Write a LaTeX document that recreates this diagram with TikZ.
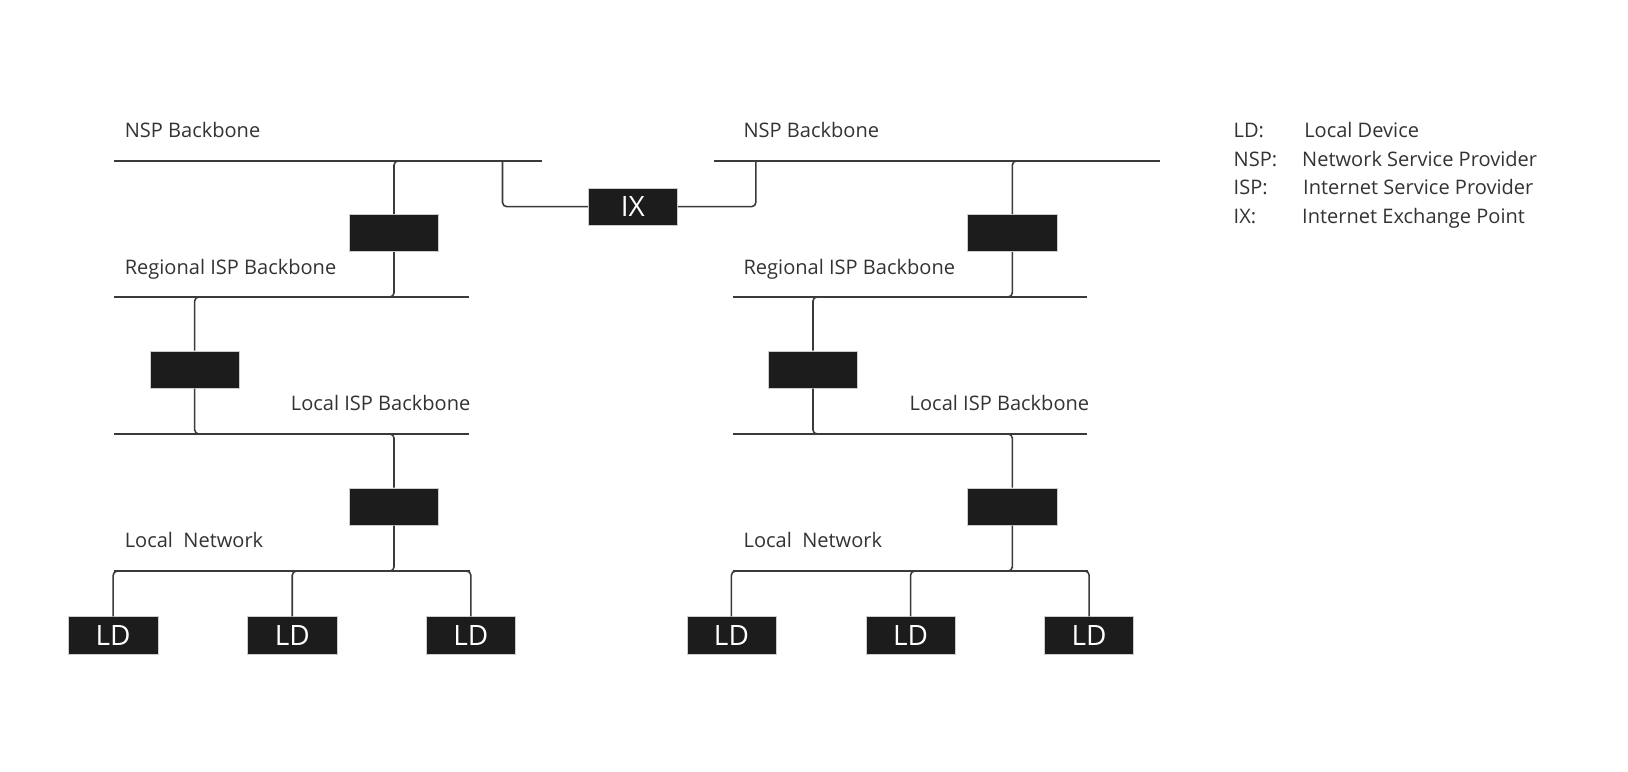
\documentclass[tikz,border=0pt]{standalone}
\usepackage{fontspec}
\setmainfont{Open Sans}
\usetikzlibrary{calc}
\definecolor{txt}{HTML}{333333}
\definecolor{linec}{HTML}{3A3A3A}
\definecolor{boxc}{HTML}{1C1C1C}
\tikzset{
  dev/.style={fill=boxc, draw=gray!40, line width=0.6, minimum width=86, minimum height=36, inner sep=0, text=white, font=\fontsize{27}{27}\selectfont},
  lbl/.style={anchor=base west, text=txt, inner sep=0, font=\fontsize{19.3}{19.3}\selectfont},
  bb/.style={line width=1.5, draw=linec},
  conn/.style={line width=1.5, draw=linec, rounded corners=4},
}
\begin{document}
\begin{tikzpicture}[x=1pt,y=-1pt]
\useasboundingbox (0,0) rectangle (1568,743);
\fill[white] (0,0) rectangle (1568,743);

% ---------- left tree ----------
\coordinate (nspLa) at (110,155); \coordinate (nspLb) at (522,155);
\coordinate (regLa) at (110,286); \coordinate (regLb) at (452,286);
\coordinate (locLa) at (110,418); \coordinate (locLb) at (452,418);
\coordinate (netLa) at (110,550); \coordinate (netLb) at (453,550);
\draw[bb] (nspLa) -- (nspLb);
\draw[bb] (regLa) -- (regLb);
\draw[bb] (locLa) -- (locLb);
\draw[bb] (netLa) -- (netLb);

\node[lbl] (tNspL) at (120,132) {NSP Backbone};
\node[lbl] (tRegL) at (120,264) {Regional ISP Backbone};
\node[lbl] (tLocL) at (280,395) {Local ISP Backbone};
\node[lbl] (tNetL) at (120,527) {Local\ \ Network};

\node[dev] (r1L) at (379.5,224.5) {};
\node[dev] (r2L) at (187.5,356) {};
\node[dev] (r3L) at (379.5,488) {};
\node[dev] (ld1L) at (109,612) {LD};
\node[dev] (ld2L) at (281.5,612) {LD};
\node[dev] (ld3L) at (453.5,612) {LD};

\draw[conn] (r1L.north) -- (r1L.north |- nspLa) -- ++(10,0);
\draw[conn] (r1L.south) -- (r1L.south |- regLa) -- ++(-10,0);
\draw[conn] (r2L.north) -- (r2L.north |- regLa) -- ++(10,0);
\draw[conn] (r2L.south) -- (r2L.south |- locLa) -- ++(10,0);
\draw[conn] (r3L.north) -- (r3L.north |- locLa) -- ++(-10,0);
\draw[conn] (r3L.south) -- (r3L.south |- netLa) -- ++(-10,0);
\draw[conn] (ld1L.north) -- (ld1L.north |- netLa) -- ++(6,0);
\draw[conn] (ld2L.north) -- (ld2L.north |- netLa) -- ++(10,0);
\draw[conn] (ld3L.north) -- (ld3L.north |- netLa) -- ++(-6,0);

% ---------- IX ----------
\node[dev] (ix) at (609.5,199) {IX};
\coordinate (ixL) at (484,155);
\coordinate (ixR) at (728,155);
\draw[conn] (ix.west) -| (ixL);
\draw[conn] (ix.east) -| (ixR);

% ---------- right tree ----------
\coordinate (nspRa) at (688,155); \coordinate (nspRb) at (1117,155);
\coordinate (regRa) at (706,286); \coordinate (regRb) at (1047,286);
\coordinate (locRa) at (706,418); \coordinate (locRb) at (1047,418);
\coordinate (netRa) at (706,550); \coordinate (netRb) at (1048,550);
\draw[bb] (nspRa) -- (nspRb);
\draw[bb] (regRa) -- (regRb);
\draw[bb] (locRa) -- (locRb);
\draw[bb] (netRa) -- (netRb);

\node[lbl] (tNspR) at (716,132) {NSP Backbone};
\node[lbl] (tRegR) at (716,264) {Regional ISP Backbone};
\node[lbl] (tLocR) at (876,395) {Local ISP Backbone};
\node[lbl] (tNetR) at (716,527) {Local\ \ Network};

\node[dev] (r1R) at (975,224.5) {};
\node[dev] (r2R) at (783,356) {};
\node[dev] (r3R) at (975,488) {};
\node[dev] (ld1R) at (704.5,612) {LD};
\node[dev] (ld2R) at (877,612) {LD};
\node[dev] (ld3R) at (1049,612) {LD};

\draw[conn] (r1R.north) -- (r1R.north |- nspRa) -- ++(10,0);
\draw[conn] (r1R.south) -- (r1R.south |- regRa) -- ++(-10,0);
\draw[conn] (r2R.north) -- (r2R.north |- regRa) -- ++(10,0);
\draw[conn] (r2R.south) -- (r2R.south |- locRa) -- ++(10,0);
\draw[conn] (r3R.north) -- (r3R.north |- locRa) -- ++(-10,0);
\draw[conn] (r3R.south) -- (r3R.south |- netRa) -- ++(-10,0);
\draw[conn] (ld1R.north) -- (ld1R.north |- netRa) -- ++(6,0);
\draw[conn] (ld2R.north) -- (ld2R.north |- netRa) -- ++(10,0);
\draw[conn] (ld3R.north) -- (ld3R.north |- netRa) -- ++(-6,0);

% ---------- legend ----------
\node[lbl] (kLD)  at (1188,132) {LD:};
\node[lbl] (vLD)  at (1256,132) {Local Device};
\node[lbl] (kNSP) at (1188,160) {NSP:};
\node[lbl] (vNSP) at (1254,160) {Network Service Provider};
\node[lbl] (kISP) at (1188,187) {ISP:};
\node[lbl] (vISP) at (1255,187) {Internet Service Provider};
\node[lbl] (kIX)  at (1188,215) {IX:};
\node[lbl] (vIX)  at (1254,215) {Internet Exchange Point};
\end{tikzpicture}
\end{document}
